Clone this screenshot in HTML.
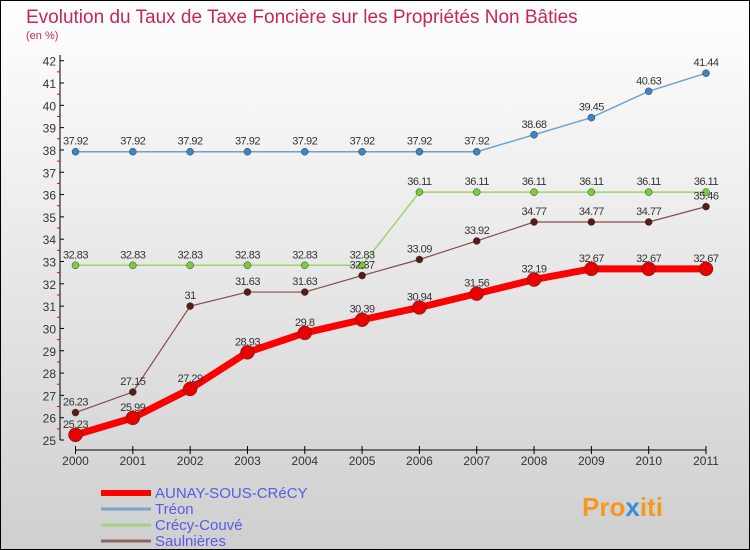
<!DOCTYPE html>
<html><head><meta charset="utf-8"><style>
body{margin:0;}
svg{display:block;font-family:"Liberation Sans",sans-serif;}
</style></head><body>
<svg id="c" width="750" height="550" xmlns="http://www.w3.org/2000/svg">
<defs><linearGradient id="bg" x1="0" y1="0" x2="0" y2="1"><stop offset="0" stop-color="#ffffff"/><stop offset="1" stop-color="#cfcfcf"/></linearGradient></defs>
<rect x="0.5" y="0.5" width="749" height="549" fill="url(#bg)" stroke="#000"/>
<text x="26" y="23" font-size="19" fill="#c8245a">Evolution du Taux de Taxe Foncière sur les Propriétés Non Bâties</text>
<text x="26" y="39" font-size="11" fill="#c8245a">(en %)</text>
<g id="axes"></g><g id="series"></g><g id="legend"></g>
<text x="582" y="516" font-size="26" font-weight="bold" fill="#f39a1e">Pro<tspan fill="#3a8fd8">x</tspan>iti</text>
</svg>
<script>
const years=[2000,2001,2002,2003,2004,2005,2006,2007,2008,2009,2010,2011];
const aunay=[25.23,25.99,27.29,28.93,29.8,30.39,30.94,31.56,32.19,32.67,32.67,32.67];
const treon=[37.92,37.92,37.92,37.92,37.92,37.92,37.92,37.92,38.68,39.45,40.63,41.44];
const crecy=[32.83,32.83,32.83,32.83,32.83,32.83,36.11,36.11,36.11,36.11,36.11,36.11];
const saul=[26.23,27.15,31,31.63,31.63,32.37,33.09,33.92,34.77,34.77,34.77,35.46];
const yTicks=[25,26,27,28,29,30,31,32,33,34,35,36,37,38,39,40,41,42];
const NS="http://www.w3.org/2000/svg";
const X=i=>75.5+i*(706-75.5)/(years.length-1);
const Y=v=>440-(v-25)*(440-60.7)/17;
function mk(t,a,p){const e=document.createElementNS(NS,t);for(const k in a)e.setAttribute(k,a[k]);p.appendChild(e);return e;}
const ax=document.getElementById('axes');
let e=mk('line',{x1:60,y1:55,x2:60,y2:440,stroke:'#000'},ax);


yTicks.forEach(v=>{
 mk('line',{x1:60,y1:Y(v),x2:64,y2:Y(v),stroke:'#000'},ax);
 if(v<42)mk('line',{x1:57,y1:Y(v+0.5),x2:60,y2:Y(v+0.5),stroke:'#e00'},ax);
 const t=mk('text',{x:56,y:Y(v)+5,'font-size':12,'text-anchor':'end',fill:'#333'},ax);t.textContent=v;
 
 
});
e=mk('line',{x1:X(0),y1:450,x2:X(11),y2:450,stroke:'#000'},ax);


years.forEach((y,i)=>{
 mk('line',{x1:X(i),y1:446,x2:X(i),y2:454,stroke:'#000'},ax);
 const t=mk('text',{x:X(i),y:465,'font-size':12,'text-anchor':'middle',fill:'#333'},ax);t.textContent=y;
 
 
});
const sg=document.getElementById('series');
function series(vals,name,line,dot,w,r){
 const g=mk('g',{},sg);
 
 
 const p=mk('polyline',{points:vals.map((v,i)=>X(i)+','+Y(v)).join(' '),fill:'none',stroke:line,'stroke-width':w},g);
 
 
 vals.forEach((v,i)=>{
  const c=mk('circle',{cx:X(i),cy:Y(v),r:r,fill:dot,stroke:'#333','stroke-width':0.5},g);
  
  
  const t=mk('text',{x:X(i),y:Y(v)-7,'font-size':11,'text-anchor':'middle',fill:'#333','letter-spacing':'-0.5'},g);t.textContent=v;
  
  
 });
}
series(treon,'treon','#6fa3cf','#3a86c8',1.5,3.5);
series(crecy,'crecy-couve','#9fd36f','#7acc3a',1.5,3.5);
series(saul,'saulnieres','#8a4a4a','#5a1a1a',1.2,3.5);
series(aunay,'aunay','#f00','#e80000',7,7);
const lg=document.getElementById('legend');
const items=[['AUNAY-SOUS-CRéCY','#f00',6],['Tréon','#7aa7c8',3],['Crécy-Couvé','#a0d08a',3],['Saulnières','#8a6565',3]];
items.forEach((it,i)=>{
 const y=492+i*16;
 const g=mk('g',{},lg);
 
 
 mk('line',{x1:101,y1:y+1,x2:151,y2:y+1,stroke:it[1],'stroke-width':it[2]},g);
 const t=mk('text',{x:155,y:y+6,'font-size':15,fill:'#5a5ae6'},g);t.textContent=it[0];
});
</script>
</body></html>
